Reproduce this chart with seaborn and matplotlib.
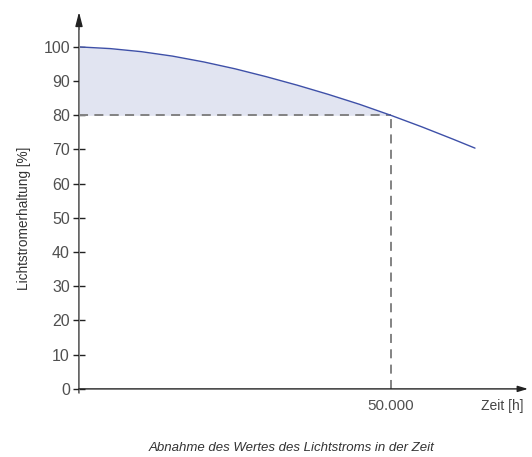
import matplotlib
matplotlib.use("Agg")
import matplotlib.pyplot as plt
import seaborn as sns
import pandas as pd

# Data
hours = [0, 5000, 10000, 15000, 20000, 25000, 30000, 35000, 40000, 45000, 50000, 55000, 60000, 63500]
maintenance = [100, 99.5, 98.6, 97.3, 95.6, 93.6, 91.3, 88.8, 86.1, 83.2, 80.0, 76.6, 73.0, 70.4]
y_ticks = [0, 10, 20, 30, 40, 50, 60, 70, 80, 90, 100]
x_tick = 50000
x_tick_label = "50.000"
threshold = 80
x_label = "Zeit [h]"
y_label = "Lichtstromerhaltung [%]"
caption = "Abnahme des Wertes des Lichtstroms in der Zeit"

df = pd.DataFrame({"h": hours, "m": maintenance})

sns.set_theme(style="white")
plt.rcParams["font.family"] = ["Liberation Sans", "DejaVu Sans"]

fig = plt.figure(figsize=(5.32, 4.57), dpi=100)
ax = fig.add_axes([79 / 532, (457 - 393) / 457, 449 / 532, (393 - 12) / 457])

XMAX = 72000
ax.set_xlim(0, XMAX)
ax.set_ylim(-1.2, 110.2)

# fill between curve and 80 % up to 50.000 h
sub = df[df.h <= x_tick]
ax.fill_between(sub.h, sub.m, threshold, color="#e1e4f1", lw=0, zorder=1)

sns.lineplot(data=df, x="h", y="m", ax=ax, color="#3e50a8", lw=1.0, zorder=3)

# dashed guide lines
ax.plot([0, x_tick], [threshold, threshold], ls=(0, (5, 3.5)), color="#7a7a7a", lw=1.3, zorder=2)
ax.plot([x_tick, x_tick], [0, threshold], ls=(0, (5, 3.5)), color="#7a7a7a", lw=1.3, zorder=2)

# axes with arrows
for s in ax.spines.values():
    s.set_visible(False)
ax.annotate("", xy=(0, 110.2), xytext=(0, -1.2),
            arrowprops=dict(arrowstyle="-|>,head_length=0.7,head_width=0.18", color="#222222", lw=1.0,
                            shrinkA=0, shrinkB=0), zorder=4)
ax.plot([0, 0], [-1.2, 105], color="#8a8a8a", lw=1.4, zorder=4, solid_capstyle="butt")
ax.annotate("", xy=(XMAX, 0), xytext=(0, 0),
            arrowprops=dict(arrowstyle="-|>,head_length=0.5,head_width=0.15", color="#222222", lw=1.0,
                            shrinkA=0, shrinkB=0), zorder=4)

ax.set_yticks(y_ticks)
ax.set_yticklabels([str(v) for v in y_ticks])
ax.tick_params(axis="y", direction="inout", length=9, width=1.0, color="#222222",
               labelsize=11.5, labelcolor="#505050", pad=2, left=True)
ax.set_xticks([x_tick])
ax.set_xticklabels([x_tick_label])
ax.tick_params(axis="x", length=0, labelsize=11, labelcolor="#505050", pad=4)
ax.set_xlabel("")
ax.set_ylabel("")

fig.text(24 / 532, 1 - 218 / 457, y_label, rotation=90, ha="center", va="center",
         fontsize=9.8, color="#333333")
fig.text(502 / 532, 1 - 406 / 457, x_label, ha="center", va="center",
         fontsize=10, color="#444444")
fig.text(292 / 532, 1 - 448 / 457, caption, ha="center", va="center",
         fontsize=9.5, style="italic", color="#333333")

fig.savefig("out.png", dpi=100)
